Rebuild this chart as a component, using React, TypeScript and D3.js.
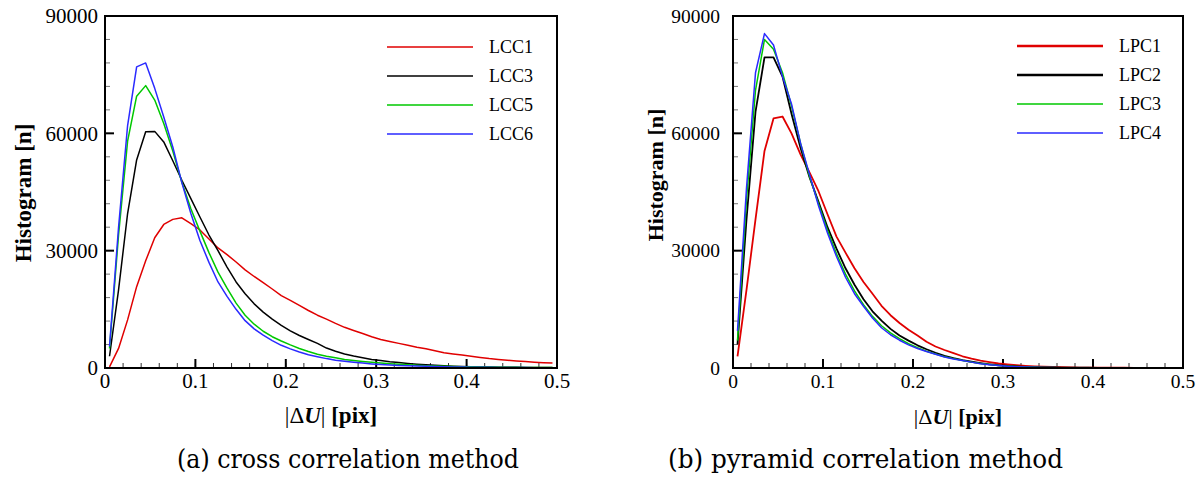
import React from 'react';
import * as d3 from 'd3';

// ---------- data ----------
const BINS = [
  0.005, 0.015, 0.025, 0.035, 0.045, 0.055, 0.065, 0.075, 0.085, 0.095,
  0.105, 0.115, 0.125, 0.135, 0.145, 0.155, 0.165, 0.175, 0.185, 0.195,
  0.205, 0.215, 0.225, 0.235, 0.245, 0.255, 0.265, 0.275, 0.285, 0.295,
  0.305, 0.315, 0.325, 0.335, 0.345, 0.355, 0.365, 0.375, 0.385, 0.395,
  0.405, 0.415, 0.425, 0.435, 0.445, 0.455, 0.465, 0.475, 0.485, 0.495,
];

const LCC1 = [
  300, 5000, 12300, 20800, 27400, 33300, 36700, 38000, 38400, 36900,
  35300, 33000, 30700, 29000, 27100, 25100, 23400, 21800, 20200, 18500,
  17300, 16000, 14700, 13500, 12500, 11400, 10400, 9600, 8800, 8000,
  7300, 6800, 6300, 5800, 5300, 4900, 4400, 3900, 3600, 3300,
  3000, 2700, 2400, 2200, 2000, 1800, 1650, 1500, 1350, 1250,
];
const LCC3 = [
  3000, 20000, 39500, 53200, 60400, 60500, 57800, 53000, 48000, 43300,
  38600, 34000, 30000, 25800, 22000, 19000, 16400, 14300, 12500, 10900,
  9500, 8300, 7300, 6300, 5100, 4300, 3600, 3050, 2600, 2200,
  1900, 1600, 1400, 1150, 950, 800, 680, 560, 460, 380,
  330, 280, 240, 210, 180, 160, 140, 120, 110, 100,
];
const LCC5 = [
  5000, 34000, 58000, 69500, 72200, 68500, 62500, 55500, 47500, 40700,
  35000, 29500, 24500, 20400, 16600, 13500, 11200, 9400, 8000, 6900,
  5900, 5000, 4200, 3500, 3000, 2600, 2200, 1900, 1650, 1450,
  1250, 1100, 950, 820, 700, 600, 520, 450, 390, 340,
  300, 260, 230, 200, 180, 160, 140, 120, 110, 100,
];
const LCC6 = [
  5500, 36000, 62000, 77000, 78000, 71500, 64200, 56500, 47400, 39500,
  32600, 27000, 22000, 18300, 15000, 12100, 10000, 8400, 7000, 5800,
  4900, 4100, 3400, 2900, 2400, 2000, 1700, 1450, 1250, 1050,
  900, 780, 670, 570, 490, 420, 360, 310, 270, 230,
  200, 180, 160, 140, 120, 110, 100, 90, 80, 70,
];

const LPC1 = [
  3000, 20000, 38000, 55500, 63800, 64300, 60000, 54600, 50000, 45200,
  39300, 33600, 29500, 25500, 22000, 19000, 15900, 13500, 11500, 9800,
  8300, 6700, 5500, 4600, 3800, 3000, 2400, 1900, 1500, 1150,
  900, 700, 550, 420, 330, 250, 190, 150, 120, 100,
  90, 80, 70, 60, 50, 40, 30, 30, 20, 20,
];
const LPC2 = [
  6000, 38000, 65500, 79400, 79400, 74500, 65000, 56300, 48800, 42500,
  36000, 30500, 25500, 21300, 17600, 14500, 12100, 10000, 8300, 7000,
  5800, 4800, 3900, 3100, 2500, 2000, 1600, 1250, 950, 700,
  520, 400, 300, 230, 180, 140, 110, 90, 70, 60,
  50, 40, 35, 30, 25, 20, 20, 15, 15, 10,
];
const LPC3 = [
  7000, 43000, 71000, 84000, 81500, 75500, 67000, 57500, 49000, 42000,
  35200, 29200, 24000, 19700, 16200, 13200, 10800, 9000, 7500, 6200,
  5200, 4300, 3600, 2900, 2400, 1900, 1500, 1150, 880, 650,
  480, 360, 270, 200, 150, 120, 90, 70, 60, 50,
  40, 35, 30, 25, 20, 20, 15, 15, 10, 10,
];
const LPC4 = [
  9500, 46000, 75500, 85500, 82600, 74500, 67500, 57500, 49500, 41500,
  34500, 28500, 23200, 19000, 15800, 12800, 10300, 8500, 7100, 5900,
  5000, 4200, 3500, 2800, 2300, 1900, 1500, 1100, 850, 650,
  450, 350, 250, 200, 150, 120, 90, 70, 60, 50,
  40, 35, 30, 25, 20, 20, 15, 15, 10, 10,
];

const LEFT_NAMES = ['LCC1', 'LCC3', 'LCC5', 'LCC6'];
const RIGHT_NAMES = ['LPC1', 'LPC2', 'LPC3', 'LPC4'];
const X_TICKS = [0, 0.1, 0.2, 0.3, 0.4, 0.5];
const Y_TICKS = [0, 30000, 60000, 90000];
const CAPTIONS = ['(a) cross correlation method', '(b) pyramid correlation method'];

// ---------- styles ----------
const COLORS = ['#e00000', '#000000', '#00c800', '#2a2aff'];
const SERIF = "'Liberation Serif', Tinos, 'Times New Roman', Times, serif";
const CAPTION_FONT = "'DejaVu Serif', serif";

type PanelProps = {
  id: string;
  x0: number; x1: number; y0: number; y1: number;
  series: number[][];
  names: string[];
  widths: number[];
  legendWidths: number[];
  legend: { lx0: number; lx1: number; tx: number; ys: number[] };
  tickFont: number;
  yLabelRight: number;
  yTitleX: number; yTitleY: number; titleFont: number;
  xTitleY: number;
  caption: string; capX: number; capY: number; capFont: number; capLen: number;
};

function Panel(p: PanelProps) {
  const x = d3.scaleLinear().domain([0, 0.5]).range([p.x0, p.x1]);
  const y = d3.scaleLinear().domain([0, 90000]).range([p.y1, p.y0]);
  const line = d3.line<number>().x((_, i) => x(BINS[i])).y((d) => y(d));
  const minorX = d3.range(0, 0.5001, 0.02);
  const minorY = d3.range(0, 90001, 6000);
  const xc = (p.x0 + p.x1) / 2;
  const serif = { fontFamily: SERIF };
  return (
    <g>
      <defs>
        <clipPath id={p.id}>
          <rect x={p.x0} y={p.y0} width={p.x1 - p.x0} height={p.y1 - p.y0} />
        </clipPath>
      </defs>
      {minorX.map((v, i) => (
        <line key={'mx' + i} x1={x(v)} x2={x(v)} y1={p.y1} y2={p.y1 - 5} stroke="#333" strokeWidth={1} />
      ))}
      {minorY.map((v, i) => (
        <line key={'my' + i} x1={p.x0} x2={p.x0 + 5} y1={y(v)} y2={y(v)} stroke="#777" strokeWidth={1} />
      ))}
      {X_TICKS.map((v, i) => (
        <line key={'Mx' + i} x1={x(v)} x2={x(v)} y1={p.y1} y2={p.y1 - 9} stroke="#000" strokeWidth={2} />
      ))}
      {Y_TICKS.map((v, i) => (
        <line key={'My' + i} x1={p.x0} x2={p.x0 + 9} y1={y(v)} y2={y(v)} stroke="#000" strokeWidth={2} />
      ))}
      <g clipPath={`url(#${p.id})`}>
        {p.series.map((s, i) => (
          <path key={i} d={line(s) || ''} fill="none" stroke={COLORS[i]} strokeWidth={p.widths[i]} strokeLinejoin="round" />
        ))}
      </g>
      <rect x={p.x0} y={p.y0} width={p.x1 - p.x0} height={p.y1 - p.y0} fill="none" stroke="#000" strokeWidth={2} />
      {X_TICKS.map((v, i) => (
        <text key={'lx' + i} x={x(v)} y={p.y1 + 20} textAnchor="middle" style={{ ...serif, fontSize: p.tickFont }}>
          {String(v)}
        </text>
      ))}
      {Y_TICKS.map((v, i) => (
        <text key={'ly' + i} x={p.yLabelRight} y={y(v)} dy="0.35em" textAnchor="end" style={{ ...serif, fontSize: p.tickFont }}>
          {String(v)}
        </text>
      ))}
      <text
        transform={`translate(${p.yTitleX},${p.yTitleY}) rotate(-90)`}
        textAnchor="middle"
        dy="0.35em"
        style={{ ...serif, fontWeight: 'bold', fontSize: p.titleFont }}
      >
        Histogram [n]
      </text>
      <text x={xc} y={p.xTitleY} textAnchor="middle" style={{ ...serif, fontSize: p.titleFont }}>
        <tspan>|Δ</tspan>
        <tspan style={{ fontWeight: 'bold', fontStyle: 'italic' }}>U</tspan>
        <tspan>|</tspan>
        <tspan style={{ fontWeight: 'bold' }}> [pix]</tspan>
      </text>
      {p.names.map((n, i) => (
        <g key={'lg' + i}>
          <line x1={p.legend.lx0} x2={p.legend.lx1} y1={p.legend.ys[i]} y2={p.legend.ys[i]} stroke={COLORS[i]} strokeWidth={p.legendWidths[i]} />
          <text x={p.legend.tx} y={p.legend.ys[i]} dy="0.35em" style={{ ...serif, fontSize: 18 }}>
            {n}
          </text>
        </g>
      ))}
      <text
        x={p.capX}
        y={p.capY}
        textLength={p.capLen}
        lengthAdjust="spacingAndGlyphs"
        style={{ fontFamily: CAPTION_FONT, fontSize: p.capFont }}
      >
        {p.caption}
      </text>
    </g>
  );
}

export default function App() {
  return (
    <svg width={1202} height={485} style={{ position: 'absolute', left: 0, top: 0, background: '#fff' }}>
      <rect x={0} y={0} width={1202} height={485} fill="#fff" />
      <Panel
        id="clipL"
        x0={105} x1={557} y0={16} y1={368}
        series={[LCC1, LCC3, LCC5, LCC6]}
        names={LEFT_NAMES}
        widths={[1.5, 1.5, 1.5, 1.5]}
        legendWidths={[1.5, 1.5, 1.5, 1.5]}
        legend={{ lx0: 387, lx1: 473, tx: 489, ys: [47, 76, 105, 134] }}
        tickFont={21}
        yLabelRight={98}
        yTitleX={23} yTitleY={193} titleFont={23}
        xTitleY={423}
        caption={CAPTIONS[0]} capX={177} capY={468} capFont={26} capLen={342}
      />
      <Panel
        id="clipR"
        x0={733} x1={1183} y0={16} y1={368}
        series={[LPC1, LPC2, LPC3, LPC4]}
        names={RIGHT_NAMES}
        widths={[1.8, 1.8, 1.5, 1.5]}
        legendWidths={[2.6, 2.6, 1.5, 1.5]}
        legend={{ lx0: 1017, lx1: 1103, tx: 1119, ys: [46, 75, 104, 133] }}
        tickFont={19.5}
        yLabelRight={720}
        yTitleX={655} yTitleY={175} titleFont={22}
        xTitleY={424}
        caption={CAPTIONS[1]} capX={668} capY={468} capFont={26} capLen={395}
      />
    </svg>
  );
}
